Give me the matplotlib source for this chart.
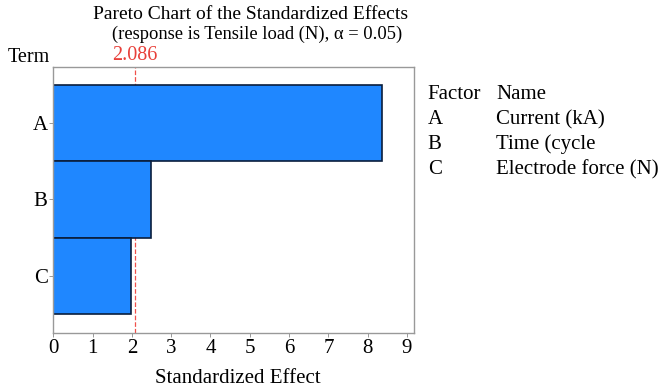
import matplotlib.pyplot as plt

terms = ['A', 'B', 'C']
effects = [8.36, 2.49, 1.98]
critical = 2.086
factors = ['A', 'B', 'C']
names = ['Current (kA)', 'Time (cycle', 'Electrode force (N)']

plt.rcParams['font.family'] = ['Liberation Serif', 'DejaVu Serif']

fig = plt.figure(figsize=(6.62, 3.89), dpi=100)
ax = fig.add_axes([0.0805, 0.144, 0.545, 0.683])

pos = list(range(len(terms)))
ax.axvline(critical, color='#f0504a', linestyle='--', linewidth=0.9, zorder=1)
ax.barh(pos, effects, height=1.0, color='#1f87ff', edgecolor='#0a1e3c', linewidth=1.2, zorder=2)

ax.set_xlim(0, 9.18)
ax.set_ylim(2.75, -0.73)
ax.set_yticks(pos)
ax.set_yticklabels(terms)
ax.set_xticks(range(10))
ax.tick_params(labelsize=15, length=3, width=0.6, color='#888888', pad=1)
for s in ax.spines.values():
    s.set_color('#999999')
    s.set_linewidth(1.0)

ax.set_xlabel('Standardized Effect', fontsize=15, labelpad=8)
ax.xaxis.label.set_x(0.512)

fig.text(0.378, 0.962, 'Pareto Chart of the Standardized Effects', ha='center', va='center', fontsize=14)
fig.text(0.389, 0.912, '(response is Tensile load (N), α = 0.05)', ha='center', va='center', fontsize=13.3)
fig.text(0.012, 0.851, 'Term', ha='left', va='center', fontsize=14.5)
ax.text(critical, 1.01, '2.086', transform=ax.get_xaxis_transform(), color='#e8403a',
        ha='center', va='bottom', fontsize=14.5)

fig.text(0.646, 0.757, 'Factor', ha='left', va='center', fontsize=15)
fig.text(0.75, 0.757, 'Name', ha='left', va='center', fontsize=15)
for i, (f, n) in enumerate(zip(factors, names)):
    y = 0.757 - (i + 1) * 0.0643
    fig.text(0.646, y, f, ha='left', va='center', fontsize=15)
    fig.text(0.75, y, n, ha='left', va='center', fontsize=15)

fig.savefig('out.png', dpi=100)
